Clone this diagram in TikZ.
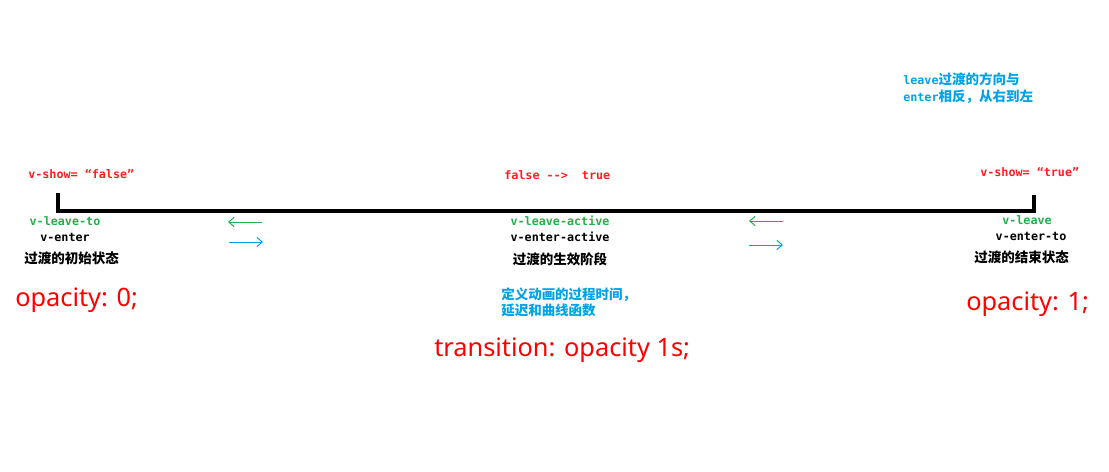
\documentclass[tikz,border=0pt]{standalone}
\usepackage{fontspec}
\setmonofont{DejaVu Sans Mono}
\newfontfamily\cjk[Scale=1.15]{Noto Sans CJK SC}
\newfontfamily\bigfont{Noto Sans}
\usetikzlibrary{positioning,arrows.meta}
\definecolor{vred}{RGB}{255,30,30}
\definecolor{vgreen}{RGB}{34,177,76}
\definecolor{vblue}{RGB}{0,162,232}
\tikzset{
    x=0.75pt, y=-0.75pt,
    code/.style={font=\ttfamily\bfseries\fontsize{8.8}{10}\selectfont, inner sep=0pt,
        text height=6.5pt, text depth=1.5pt},
    stage/.style={font=\cjk\bfseries\fontsize{8.8}{10}\selectfont, inner sep=0pt,
        text height=8.5pt, text depth=1.5pt},
    note/.style={font=\ttfamily\bfseries\fontsize{8.8}{13}\selectfont, text=vblue,
        align=left, inner sep=0pt, anchor=north west},
    big/.style={font=\bigfont\fontsize{19}{24}\selectfont, text=red, inner sep=0pt, anchor=west},
    flow/.style={-{Straight Barb[length=4pt,width=7pt]}, line width=0.75pt},
}
\begin{document}
\begin{tikzpicture}
    \useasboundingbox (0,0) rectangle (1109,471);

    % the time line
    \coordinate (start) at (58,193);
    \coordinate (end) at (1034,195);
    \draw[line width=3pt, line join=miter] (start) -- (start |- 0,211) -- (end |- 0,211) -- (end);

    % v-show values
    \node[code, text=vred, anchor=west] (showfalse) at (28,175) {v-show= “false”};
    \node[code, text=vred, anchor=west] (change) at (504,176) {false -{}->~ true};
    \node[code, text=vred, anchor=west] (showtrue) at (980,173) {v-show= “true”};

    % start state
    \node[code, text=vgreen] (leaveto) at (65,222) {v-leave-to};
    \node[code, below=4pt of leaveto] (enter) {v-enter};
    \node[stage, below=6pt of enter, xshift=5pt] (startstate) {过渡的初始状态};

    % active phase
    \node[code, text=vgreen] (leaveactive) at (560,222) {v-leave-active};
    \node[code, below=3.5pt of leaveactive] (enteractive) {v-enter-active};
    \node[stage, below=7pt of enteractive] (activestate) {过渡的生效阶段};

    % end state
    \node[code, text=vgreen] (leave) at (1027,221) {v-leave};
    \node[code, below=3.5pt of leave, xshift=3pt] (enterto) {v-enter-to};
    \node[stage, below=6.5pt of enterto, xshift=-7pt] (endstate) {过渡的结束状态};

    % direction arrows
    \coordinate (gl1) at (262,222);
    \coordinate (gl2) at (228,222);
    \coordinate (bl1) at (229,242);
    \coordinate (bl2) at (263,242);
    \coordinate (gr1) at (783,221);
    \coordinate (gr2) at (749,221);
    \coordinate (br1) at (749,245);
    \coordinate (br2) at (783,245);
    \draw[flow, vgreen] (gl1) -- (gl2);
    \draw[flow, vblue] (bl1) -- (bl2);
    \draw[flow, vgreen] (gr1) -- (gr2);
    \draw[flow, vblue] (br1) -- (br2);

    % notes
    \node[note] (leavenote) at (903,72) {leave{\cjk 过渡的方向与}\\enter{\cjk 相反，从右到左}};
    \node[note, font=\cjk\bfseries\fontsize{8.8}{12}\selectfont] (timenote) at (501,288)
        {定义动画的过程时间，\\延迟和曲线函数};

    % css values
    \node[big] (opacityzero) at (15,300) {opacity: 0;};
    \node[big] (opacityone) at (966,304) {opacity: 1;};
    \node[big] (transition) at (434,350) {transition: opacity 1s;};
\end{tikzpicture}
\end{document}
